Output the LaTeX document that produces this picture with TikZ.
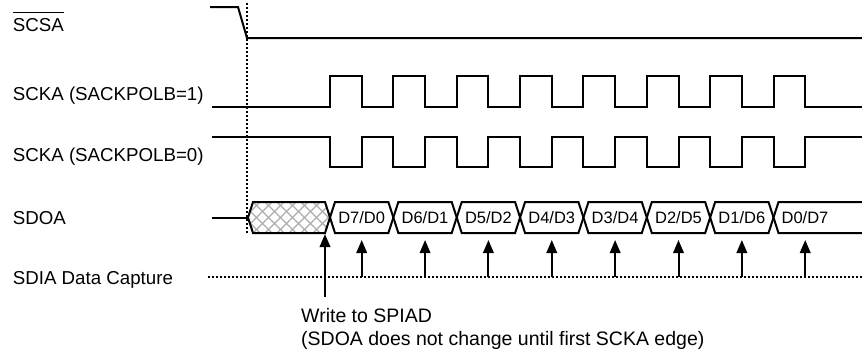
\documentclass[tikz,border=0pt]{standalone}
\usepackage{fontspec}
\setmainfont{Liberation Sans}
\usetikzlibrary{arrows.meta}

\tikzset{
  sig/.style={line width=2pt, line join=miter},
  dotline/.style={line width=1.6pt, dash pattern=on 2pt off 2pt},
  capt/.style={line width=2pt, -{Triangle[width=10.5pt,length=13pt]}},
  lbl/.style={anchor=base west, inner sep=0pt, font=\fontsize{18.7}{23}\selectfont},
  note/.style={anchor=base west, inner sep=0pt, font=\fontsize{19.5}{23}\selectfont},
  dlbl/.style={inner sep=0pt, font=\fontsize{16.5}{19}\selectfont}
}

\begin{document}
\begin{tikzpicture}[x=1pt,y=-1pt]
    \useasboundingbox (0,0) rectangle (862,354);

    % Signal names
    \node[lbl] (scsa) at (12.7,31) {SCSA};
    \draw[line width=1.4pt] ([yshift=5pt]scsa.north west) -- ([yshift=5pt]scsa.north east);
    \node[lbl] (sckahi) at (12.7,100) {SCKA (SACKPOLB=1)};
    \node[lbl] (sckalo) at (12.7,161) {SCKA (SACKPOLB=0)};
    \node[lbl] (sdoa) at (12.7,224) {SDOA};
    \node[lbl] (sdia) at (12.7,284) {SDIA Data Capture};

    % Chip select
    \draw[sig] (210,7) -- (238,7) -- (247,38) -- (862,38);
    \draw[dotline] (247,3) -- (247,234);

    % Clocks
    \draw[sig] (212,107) -- (330,107)
        \foreach \k in {0,...,7} { -- ++(0,-31) -- ++(31.7,0) -- ++(0,31) -- ++(31.66,0) }
        -- (862,107);
    \draw[sig] (212,137) -- (330,137)
        \foreach \k in {0,...,7} { -- ++(0,30) -- ++(31.7,0) -- ++(0,-30) -- ++(31.66,0) }
        -- (862,137);

    % Data out: idle part
    \draw[sig] (212,217.5) -- (248,217.5);
    \begin{scope}
        \clip (248,217.5) -- (253,202) -- (325,202) -- (330,217.5) -- (325,233) -- (253,233) -- cycle;
        \foreach \s in {0,12,...,132} {
            \draw[gray!65, line width=1.2pt] (236+\s,202) -- ++(-31,31);
            \draw[gray!65, line width=1.2pt] (205+\s,202) -- ++(31,31);
        }
    \end{scope}
    \draw[sig] (248,217.5) -- (253,202) -- (325,202) -- (330,217.5) -- (325,233) -- (253,233) -- cycle;

    % Data out: bits
    \foreach \a/\b [count=\i from 0] in {7/0,6/1,5/2,4/3,3/4,2/5,1/6} {
        \pgfmathsetmacro{\xl}{330+63.36*\i}
        \pgfmathsetmacro{\xr}{\xl+63.36}
        \draw[sig] (\xl,217.5) -- (\xl+5,202) -- (\xr-5,202) -- (\xr,217.5) -- (\xr-5,233) -- (\xl+5,233) -- cycle;
        \node[dlbl] (d\i) at ({(\xl+\xr)/2},218) {D\a/D\b};
    }
    \draw[sig] (862,202) -- (778.5,202) -- (773.5,217.5) -- (778.5,233) -- (862,233);
    \node[dlbl] (d7) at (805,218) {D0/D7};

    % Data capture
    \draw[dotline] (208,277) -- (862,277);
    \foreach \i in {0,...,7} {
        \coordinate (cb\i) at (361.7+63.36*\i,277);
        \coordinate (ct\i) at (361.7+63.36*\i,240);
        \draw[capt] (cb\i) -- (ct\i);
    }

    % Write to SPIAD
    \coordinate (wb) at (325,297);
    \coordinate (wt) at (325,234);
    \draw[capt] (wb) -- (wt);
    \node[note] (wr1) at (301,322) {Write to SPIAD};
    \node[note] (wr2) at (301,345) {(SDOA does not change until first SCKA edge)};
\end{tikzpicture}
\end{document}
